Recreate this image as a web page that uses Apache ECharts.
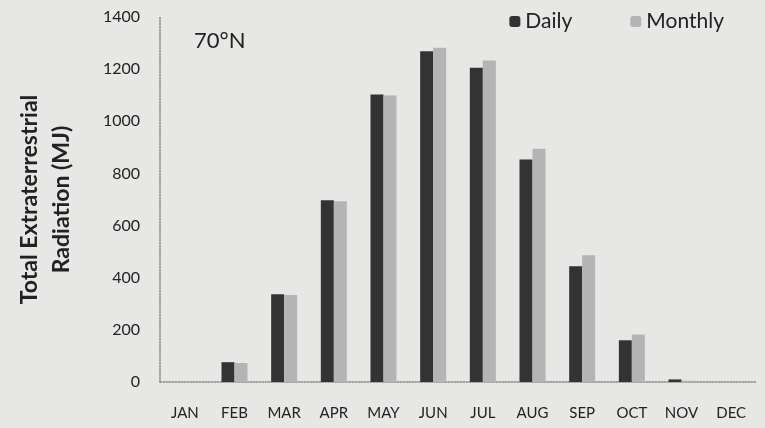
<!DOCTYPE html>
<html>
<head>
<meta charset="utf-8">
<script src="https://cdn.jsdelivr.net/npm/echarts@6/dist/echarts.min.js"></script>
<style>
  html, body { margin: 0; padding: 0; background: #e7e7e5; }
  #chart { width: 765px; height: 428px; }
</style>
</head>
<body>
<div id="chart"></div>
<script>
var months = ['JAN', 'FEB', 'MAR', 'APR', 'MAY', 'JUN', 'JUL', 'AUG', 'SEP', 'OCT', 'NOV', 'DEC']
var daily = [0, 76, 337, 697, 1103, 1269, 1205, 853, 444, 160, 10, 0]
var monthly = [0, 73, 334, 693, 1099, 1282, 1233, 895, 486, 182, 5, 0]
var yTicks = [0, 200, 400, 600, 800, 1000, 1200, 1400]

var font = 'Lato, "Open Sans", sans-serif'
var chart = echarts.init(document.getElementById('chart'))

chart.setOption({
  backgroundColor: '#e7e7e5',
  textStyle: { fontFamily: font, color: '#222' },
  title: {
    text: '70°N',
    left: 189,
    top: 25,
    textStyle: { fontFamily: font, fontSize: 22, fontWeight: 'normal', color: '#222' }
  },
  legend: {
    right: 36,
    top: 6,
    itemWidth: 11,
    itemHeight: 11,
    itemGap: 58,
    textStyle: { fontFamily: font, fontSize: 21, color: '#222' },
    data: ['Daily', 'Monthly']
  },
  grid: {
    left: 160,
    right: 9,
    top: 17,
    bottom: 46
  },
  xAxis: {
    type: 'category',
    data: months,
    axisLine: { lineStyle: { color: '#8a8a8a', width: 1.5, type: 'dotted' } },
    axisTick: { show: false },
    axisLabel: { color: '#222', fontSize: 15, margin: 24, fontFamily: font }
  },
  yAxis: {
    type: 'value',
    min: yTicks[0],
    max: yTicks[yTicks.length - 1],
    interval: 200,
    name: 'Total Extraterrestrial\nRadiation (MJ)',
    nameLocation: 'middle',
    nameGap: 82,
    nameTextStyle: { fontFamily: font, fontSize: 23, fontWeight: 'bold', color: '#222', lineHeight: 32 },
    axisLine: { show: true, lineStyle: { color: '#8a8a8a', width: 1.5, type: 'dotted' } },
    axisTick: { show: false },
    splitLine: { show: false },
    axisLabel: {
      color: '#222',
      fontSize: 16,
      margin: 20,
      fontFamily: font,
      formatter: function (v) { return String(v) }
    }
  },
  series: [
    {
      name: 'Daily',
      type: 'bar',
      barWidth: 13,
      barGap: '0%',
      itemStyle: { color: '#333333' },
      data: daily
    },
    {
      name: 'Monthly',
      type: 'bar',
      barWidth: 13,
      barGap: '0%',
      itemStyle: { color: '#b4b4b4' },
      data: monthly
    }
  ]
})
</script>
</body>
</html>
